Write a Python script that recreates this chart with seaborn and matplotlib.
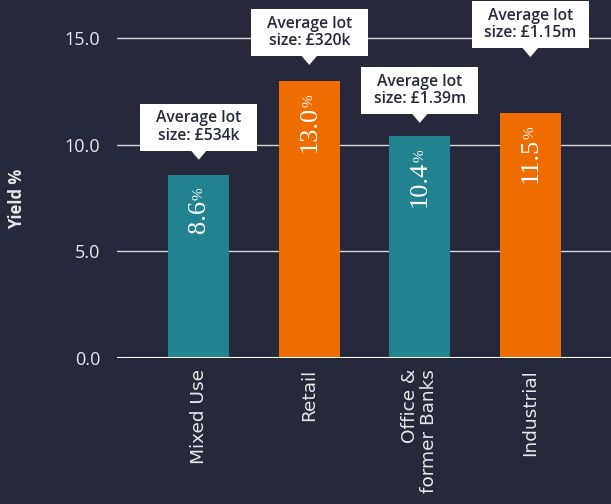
import matplotlib
matplotlib.use("Agg")
import matplotlib.pyplot as plt
import seaborn as sns
import pandas as pd
from matplotlib.patches import Rectangle, Polygon

# ---- data ----
categories = ["Mixed Use", "Retail", "Office &\nformer Banks", "Industrial"]
yields = [8.6, 13.0, 10.4, 11.5]
lot_sizes = ["£534k", "£320k", "£1.39m", "£1.15m"]
bar_colors = ["#23828f", "#ef6c00", "#23828f", "#ef6c00"]
y_ticks = [0.0, 5.0, 10.0, 15.0]

# ---- layout (styling only) ----
callout_gap = [0.70, 0.75, 0.63, 2.62]   # data units between bar top and pointer tip

BG = "#26293c"
FG = "#e8e8ea"

sns.set_theme(style="dark")
plt.rcParams["font.family"] = ["Open Sans", "DejaVu Sans"]

fig = plt.figure(figsize=(6.11, 5.04), dpi=100, facecolor=BG)
ax = fig.add_axes([117 / 611, (504 - 357.7) / 504, 494 / 611, 357.7 / 504])
ax.set_facecolor(BG)

df = pd.DataFrame({"category": categories, "yield": yields})
sns.barplot(data=df, x="category", y="yield", hue="category",
            palette=bar_colors, width=0.55, saturation=1, legend=False,
            linewidth=0, edgecolor="none", ax=ax, zorder=3)

ax.set_xlim(-0.74, 3.73)
ax.set_ylim(0, 16.8)
ax.set_yticks(y_ticks)
ax.set_yticklabels([f"{t:.1f}" for t in y_ticks])
ax.set_xticks(range(len(categories)))
ax.set_xticklabels(categories, rotation=90, va="top", ha="center",
                   multialignment="right", fontfamily="DejaVu Sans",
                   fontsize=13.3, color=FG, linespacing=1.05)
ax.grid(axis="y", color="#d6d6d6", linewidth=1.0, zorder=1)
ax.grid(axis="x", visible=False)
ax.axhline(0, color="white", linewidth=2.2, zorder=4)
for s in ax.spines.values():
    s.set_visible(False)

ax.tick_params(axis="y", length=0, pad=12, labelsize=13, labelcolor=FG)
ax.tick_params(axis="x", length=0, pad=8)

ax.set_xlabel("")
ax.set_ylabel("Yield %", color=FG, fontsize=12, fontweight="bold")
ax.yaxis.set_label_coords(-0.185, 0.445)

# ---- value labels inside bars ----
for i, v in enumerate(yields):
    ax.annotate("%", (i, v), xytext=(0, -9.5), textcoords="offset points",
                rotation=90, ha="center", va="top", fontsize=11,
                color="white", family="Liberation Serif", zorder=5)
    ax.annotate(f"{v:.1f}", (i, v), xytext=(0, -18), textcoords="offset points",
                rotation=90, ha="center", va="top", fontsize=19,
                color="white", family="Liberation Serif", zorder=5)

# ---- callouts ----
box_w = 1.06
box_h = 2.21
tri_w = 0.145
tri_h = 0.42
for i, (v, lot, g) in enumerate(zip(yields, lot_sizes, callout_gap)):
    tip = v + g
    bottom = tip + tri_h
    ax.add_patch(Rectangle((i - box_w / 2, bottom), box_w, box_h,
                           facecolor="white", edgecolor="none", zorder=6,
                           clip_on=False))
    ax.add_patch(Polygon([(i - tri_w / 2, bottom + 0.02), (i + tri_w / 2, bottom + 0.02),
                          (i, tip)], closed=True, facecolor="white",
                         edgecolor="none", zorder=6, clip_on=False))
    ax.text(i, bottom + box_h / 2, f"Average lot\nsize: {lot}", ha="center",
            va="center", fontsize=11.3, fontweight="semibold", color="#26293c",
            linespacing=1.12, zorder=7)

fig.savefig("out.png", dpi=100, facecolor=BG)
